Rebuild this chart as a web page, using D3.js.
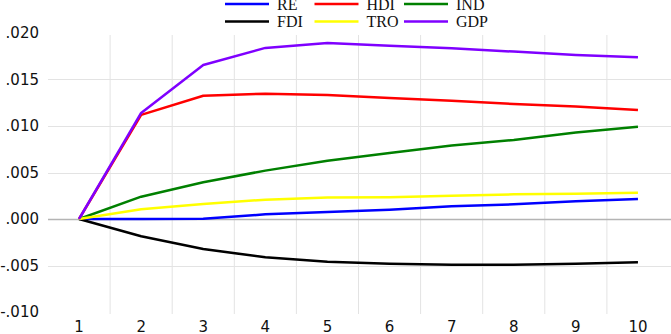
<!DOCTYPE html>
<html>
<head>
<meta charset="utf-8">
<script src="https://cdn.jsdelivr.net/npm/d3@7"></script>
<style>
	body { margin: 0; background: #fff; }
	.tick-label { font-family: "DejaVu Sans", Verdana, sans-serif; font-size: 15px; fill: #111; }
	.legend-label { font-family: "Liberation Serif", "Times New Roman", serif; font-size: 16px; fill: #111; }
</style>
</head>
<body>
<svg id="chart"></svg>
<script>
// periods on the x axis
var periods = [1, 2, 3, 4, 5, 6, 7, 8, 9, 10];
// y tick values
var yTicks = [-0.010, -0.005, 0.000, 0.005, 0.010, 0.015, 0.020];

// series values
var RE  = [0, 0.0000, 0.00003, 0.0005, 0.00075, 0.0010, 0.00136, 0.00158, 0.0019, 0.00215];
var HDI = [0, 0.0112, 0.01326, 0.01347, 0.01333, 0.0130, 0.01272, 0.01237, 0.0121, 0.01172];
var IND = [0, 0.0024, 0.00395, 0.0052, 0.00627, 0.0071, 0.0079, 0.0085, 0.0093, 0.00993];
var FDI = [0, -0.00186, -0.00323, -0.00412, -0.00459, -0.0048, -0.00491, -0.00491, -0.0048, -0.00466];
var TRO = [0, 0.00104, 0.0016, 0.00208, 0.0023, 0.00233, 0.0025, 0.00265, 0.00272, 0.00283];
var GDP = [0, 0.0114, 0.01656, 0.0184, 0.01893, 0.01864, 0.01835, 0.0180, 0.01764, 0.01739];

var seriesNames = ["RE", "HDI", "IND", "FDI", "TRO", "GDP"];
var seriesValues = [RE, HDI, IND, FDI, TRO, GDP];
var seriesColors = ["#0000ff", "#ff0000", "#008000", "#000000", "#ffff00", "#7f00ff"];

var chartWidth = 671;
var chartHeight = 334;
var plot = { left: 48, right: 669, top: 33, bottom: 312 };

var svg = d3.select("#chart")
	.attr("width", chartWidth)
	.attr("height", chartHeight);

var xScale = d3.scaleBand()
	.domain(periods)
	.range([plot.left, plot.right]);

var yScale = d3.scaleLinear()
	.domain([-0.010, 0.020])
	.range([plot.bottom, plot.top]);

function xCenter(p) {
	return xScale(p) + xScale.bandwidth() / 2;
}

// vertical grid lines between periods
svg.append("g")
	.selectAll("line")
	.data(periods.slice(1))
	.enter()
	.append("line")
	.attr("x1", function(d) { return xScale(d); })
	.attr("x2", function(d) { return xScale(d); })
	.attr("y1", plot.top + 2)
	.attr("y2", plot.bottom + 2)
	.attr("stroke", "#e3e3e3")
	.attr("stroke-width", 1);

// horizontal grid lines (interior ticks only)
svg.append("g")
	.selectAll("line")
	.data(yTicks.slice(1, -1))
	.enter()
	.append("line")
	.attr("x1", plot.left)
	.attr("x2", chartWidth)
	.attr("y1", function(d) { return Math.round(yScale(d)) + 0.5; })
	.attr("y2", function(d) { return Math.round(yScale(d)) + 0.5; })
	.attr("stroke", function(d) { return d === 0 ? "#b4b4b4" : "#e3e3e3"; })
	.attr("stroke-width", function(d) { return d === 0 ? 1.5 : 1; });

// y axis labels
var yAxis = d3.axisLeft(yScale)
	.tickValues(yTicks)
	.tickSize(0)
	.tickPadding(0)
	.tickFormat(function(d) {
		return d3.format(".3f")(d).replace("0.", ".").replace("−", "-");
	});

svg.append("g")
	.attr("transform", "translate(39,0)")
	.call(yAxis)
	.call(function(g) { g.select(".domain").remove(); })
	.selectAll("text")
	.attr("class", "tick-label");

// x axis labels
var xAxis = d3.axisBottom(xScale)
	.tickSize(0)
	.tickPadding(0);

svg.append("g")
	.attr("transform", "translate(0,318)")
	.call(xAxis)
	.call(function(g) { g.select(".domain").remove(); })
	.selectAll("text")
	.attr("class", "tick-label")
	.attr("dy", "0.9em");

// series lines
var line = d3.line()
	.x(function(d, i) { return xCenter(periods[i]); })
	.y(function(d) { return yScale(d); });

svg.append("g")
	.selectAll("path")
	.data(seriesValues)
	.enter()
	.append("path")
	.attr("d", function(d) { return line(d); })
	.attr("fill", "none")
	.attr("stroke", function(d, i) { return seriesColors[i]; })
	.attr("stroke-width", 2.5)
	.attr("stroke-linejoin", "round");

// legend, two rows of three (top row sits against the edge, as in the source)
var legend = svg.append("g")
	.selectAll("g")
	.data(seriesNames)
	.enter()
	.append("g")
	.attr("transform", function(d, i) {
		var col = i % 3;
		var row = Math.floor(i / 3);
		return "translate(" + (225 + col * 89.5) + "," + (4 + row * 17.5) + ")";
	});

legend.append("line")
	.attr("x1", 0)
	.attr("x2", 44)
	.attr("y1", 0)
	.attr("y2", 0)
	.attr("stroke", function(d, i) { return seriesColors[i]; })
	.attr("stroke-width", 2.5);

legend.append("text")
	.attr("class", "legend-label")
	.attr("x", 52)
	.attr("y", 0)
	.attr("dy", "0.35em")
	.text(function(d) { return d; });
</script>
</body>
</html>
